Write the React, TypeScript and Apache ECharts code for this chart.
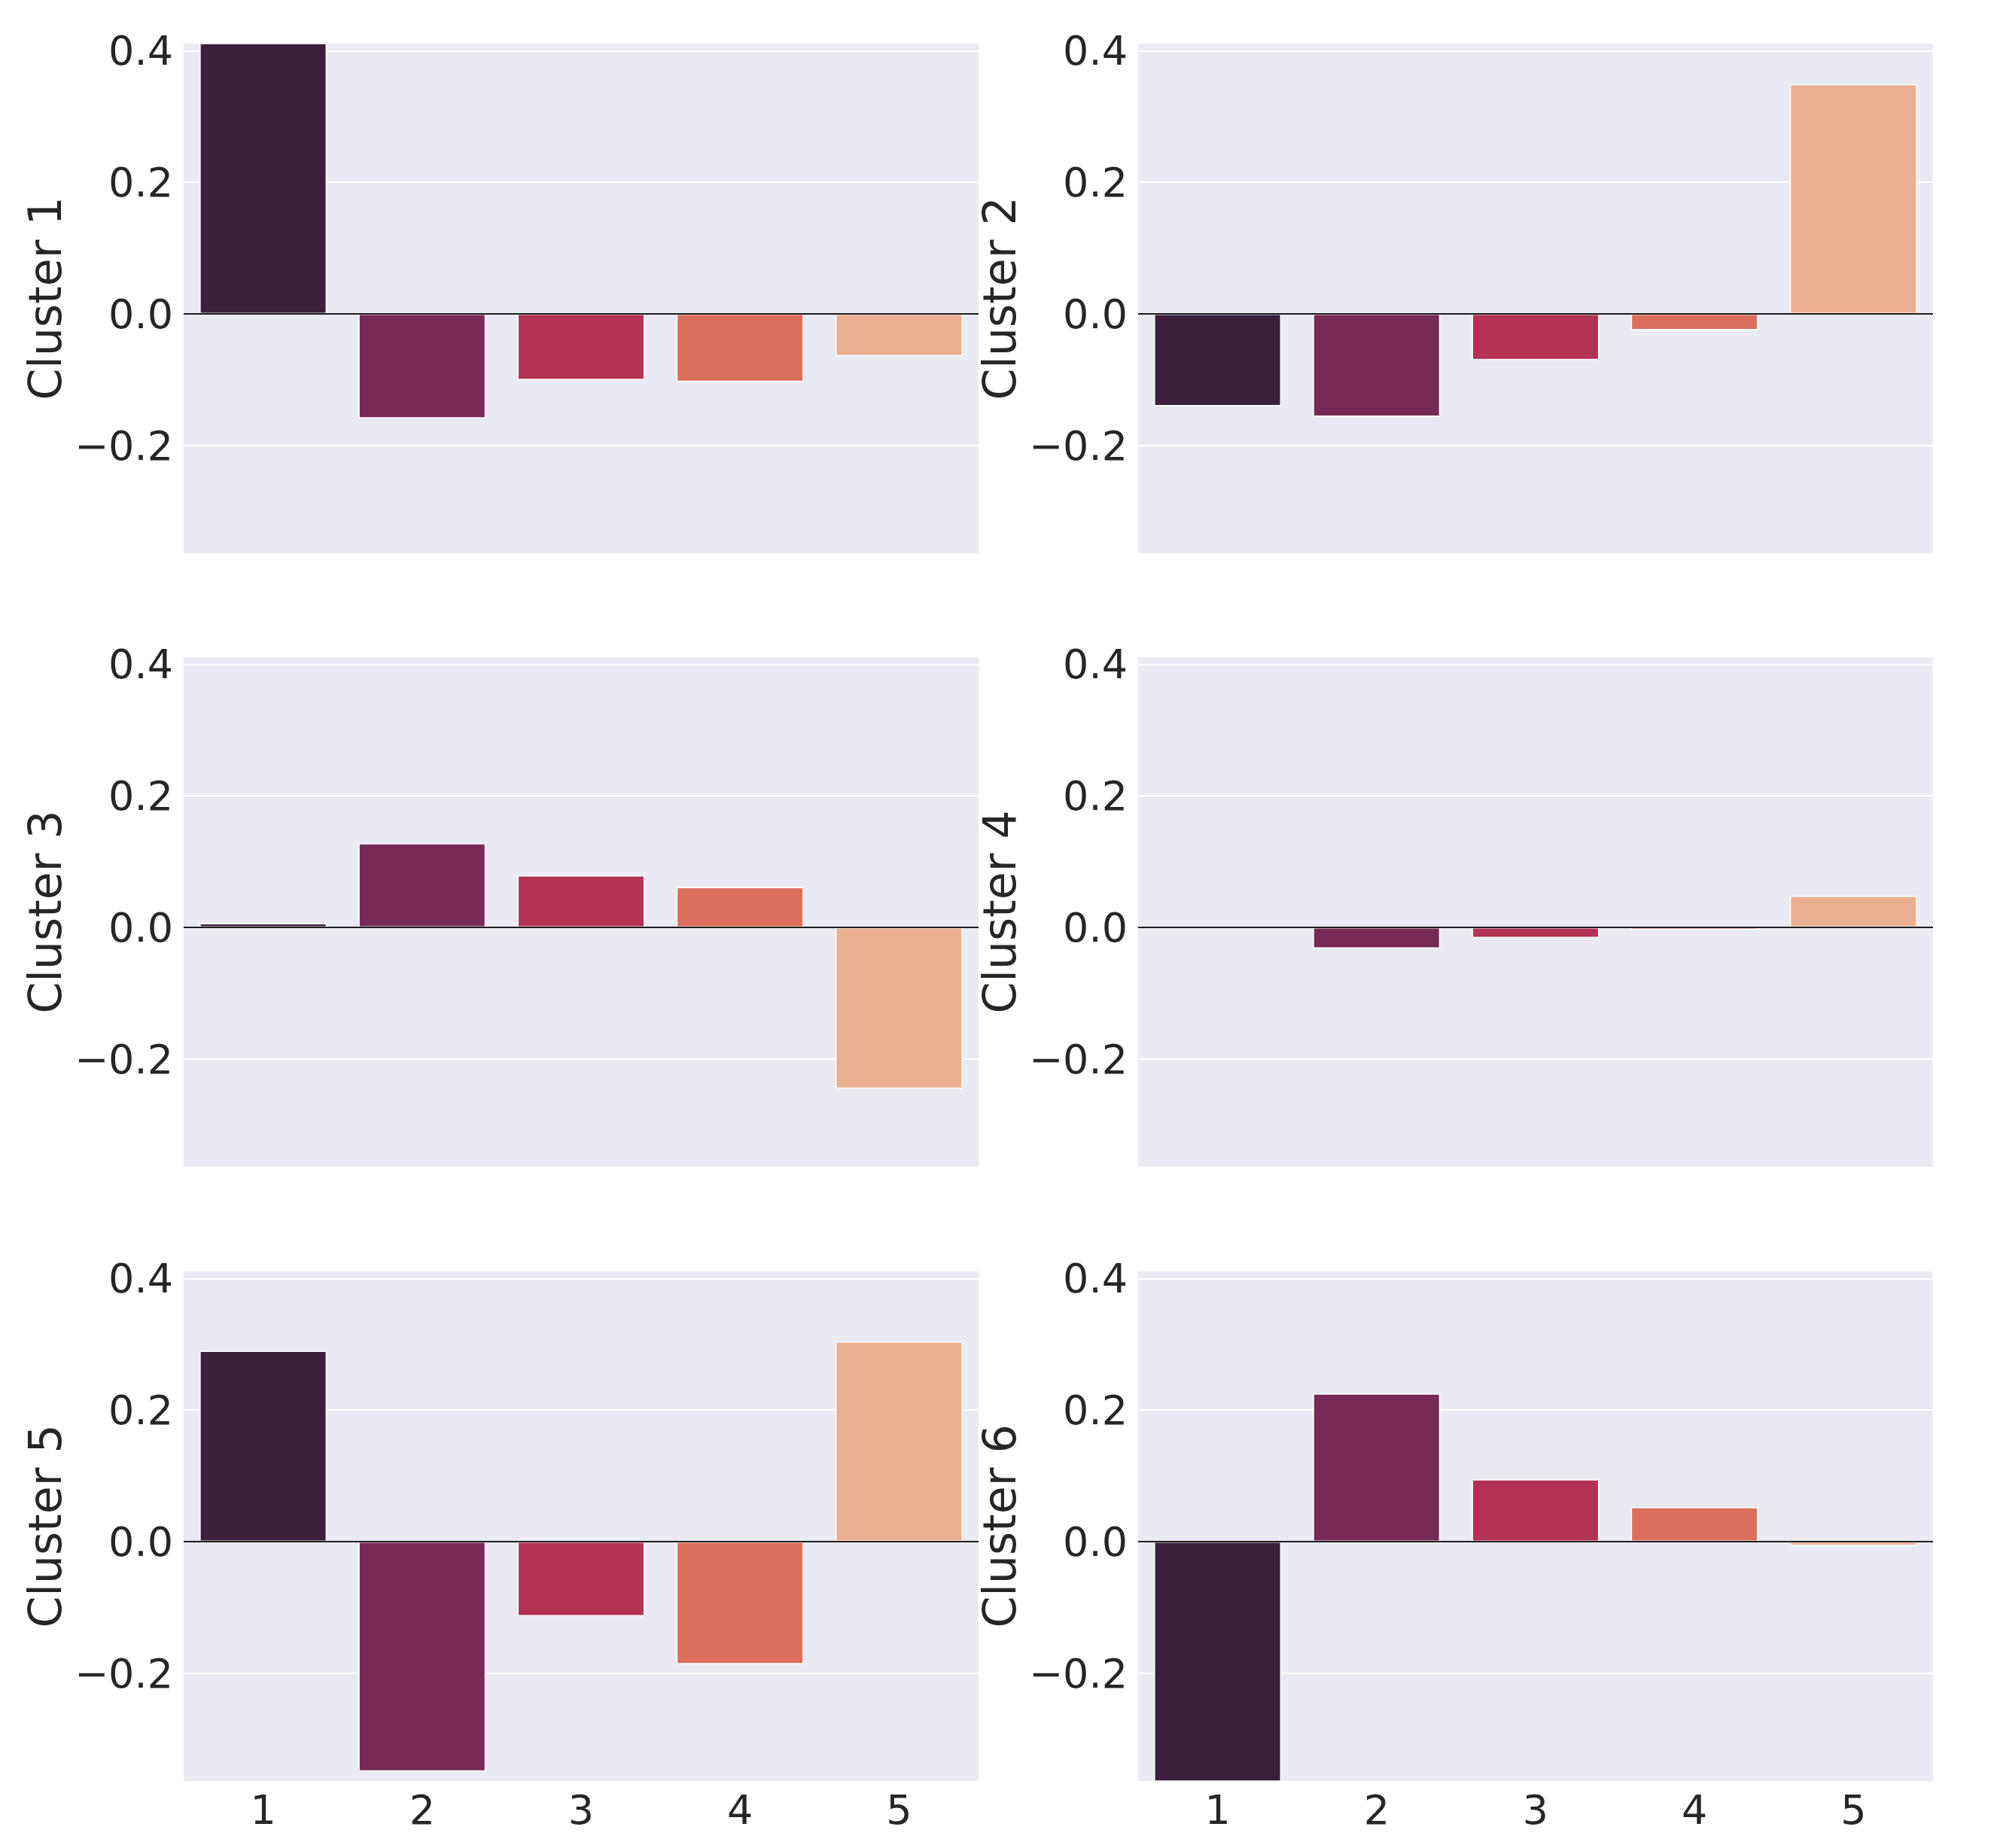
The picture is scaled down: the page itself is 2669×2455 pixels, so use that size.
import React, { useEffect, useRef } from "react";
import * as echarts from "echarts";

const categories = ["1", "2", "3", "4", "5"];
const clusterNames = ["Cluster 1", "Cluster 2", "Cluster 3", "Cluster 4", "Cluster 5", "Cluster 6"];
const cluster1 = [0.43, -0.1586, -0.1003, -0.103, -0.064];
const cluster2 = [-0.14, -0.156, -0.07, -0.0245, 0.349];
const cluster3 = [0.0065, 0.128, 0.0789, 0.0614, -0.2449];
const cluster4 = [0.0, -0.032, -0.016, -0.0038, 0.048];
const cluster5 = [0.29, -0.349, -0.113, -0.186, 0.304];
const cluster6 = [-0.38, 0.225, 0.0947, 0.0523, -0.0062];
const clusters = [cluster1, cluster2, cluster3, cluster4, cluster5, cluster6];
const yTicks = [-0.2, 0, 0.2, 0.4];
const gridLineValues = [-0.2, 0.2, 0.4];
const barColors = ["#3b1f3c", "#772a57", "#b43156", "#dc6e5b", "#eaaf91"];

const FONT = "DejaVu Sans";
const TEXT = "#262626";

export default function App() {
  const ref = useRef<HTMLDivElement>(null);
  useEffect(() => {
    document.body.style.margin = "0";
    if (!ref.current) return;
    const chart = echarts.init(ref.current, undefined, { renderer: "svg" });
    const lefts = [244, 1512];
    const tops = [58, 873, 1689];
    const W = 1056;
    const H = 677;
    const grids: any[] = [];
    const xAxes: any[] = [];
    const yAxes: any[] = [];
    const series: any[] = [];
    clusters.forEach((vals, i) => {
      const col = i % 2;
      const row = Math.floor(i / 2);
      grids.push({
        left: lefts[col],
        top: tops[row],
        width: W,
        height: H,
        show: true,
        backgroundColor: "#eaeaf2",
        borderWidth: 0,
        containLabel: false,
      });
      xAxes.push({
        type: "category",
        gridIndex: i,
        data: categories,
        axisLine: { show: false },
        axisTick: { show: false },
        splitLine: { show: false },
        axisLabel: {
          show: row === 2,
          fontSize: 54,
          fontFamily: FONT,
          color: TEXT,
          margin: 11,
        },
      });
      yAxes.push({
        type: "value",
        gridIndex: i,
        min: -0.3635,
        max: 0.4106,
        name: clusterNames[i],
        nameLocation: "middle",
        nameRotate: 90,
        nameGap: 154,
        nameTextStyle: { fontSize: 60, fontFamily: FONT, color: TEXT },
        axisLine: { show: false },
        axisTick: { show: false },
        splitLine: { show: false },
        axisLabel: {
          customValues: yTicks,
          fontSize: 54,
          fontFamily: FONT,
          color: TEXT,
          margin: 14,
          formatter: (v: number) =>
            v < 0 ? "\u2212" + Math.abs(v).toFixed(1) : v.toFixed(1),
        },
      });
      series.push({
        type: "line",
        xAxisIndex: i,
        yAxisIndex: i,
        data: [],
        silent: true,
        markLine: {
          silent: true,
          symbol: "none",
          z: 1,
          label: { show: false },
          lineStyle: { color: "#ffffff", width: 2, type: "solid" },
          data: gridLineValues.map((v) => ({ yAxis: v })),
        },
      });
      series.push({
        type: "bar",
        xAxisIndex: i,
        yAxisIndex: i,
        barWidth: "80%",
        clip: true,
        z: 2,
        data: vals.map((v, j) => ({
          value: v,
          itemStyle: { color: barColors[j], borderColor: "#ffffff", borderWidth: 1.5 },
        })),
        markLine: {
          silent: true,
          symbol: "none",
          z: 5,
          label: { show: false },
          lineStyle: { color: "#1f1f1f", width: 2.2, type: "solid" },
          data: [{ yAxis: 0 }],
        },
      });
    });
    chart.setOption({
      animation: false,
      backgroundColor: "#ffffff",
      grid: grids,
      xAxis: xAxes,
      yAxis: yAxes,
      series,
    });
    return () => chart.dispose();
  }, []);
  return <div ref={ref} style={{ width: 2669, height: 2455 }} />;
}
